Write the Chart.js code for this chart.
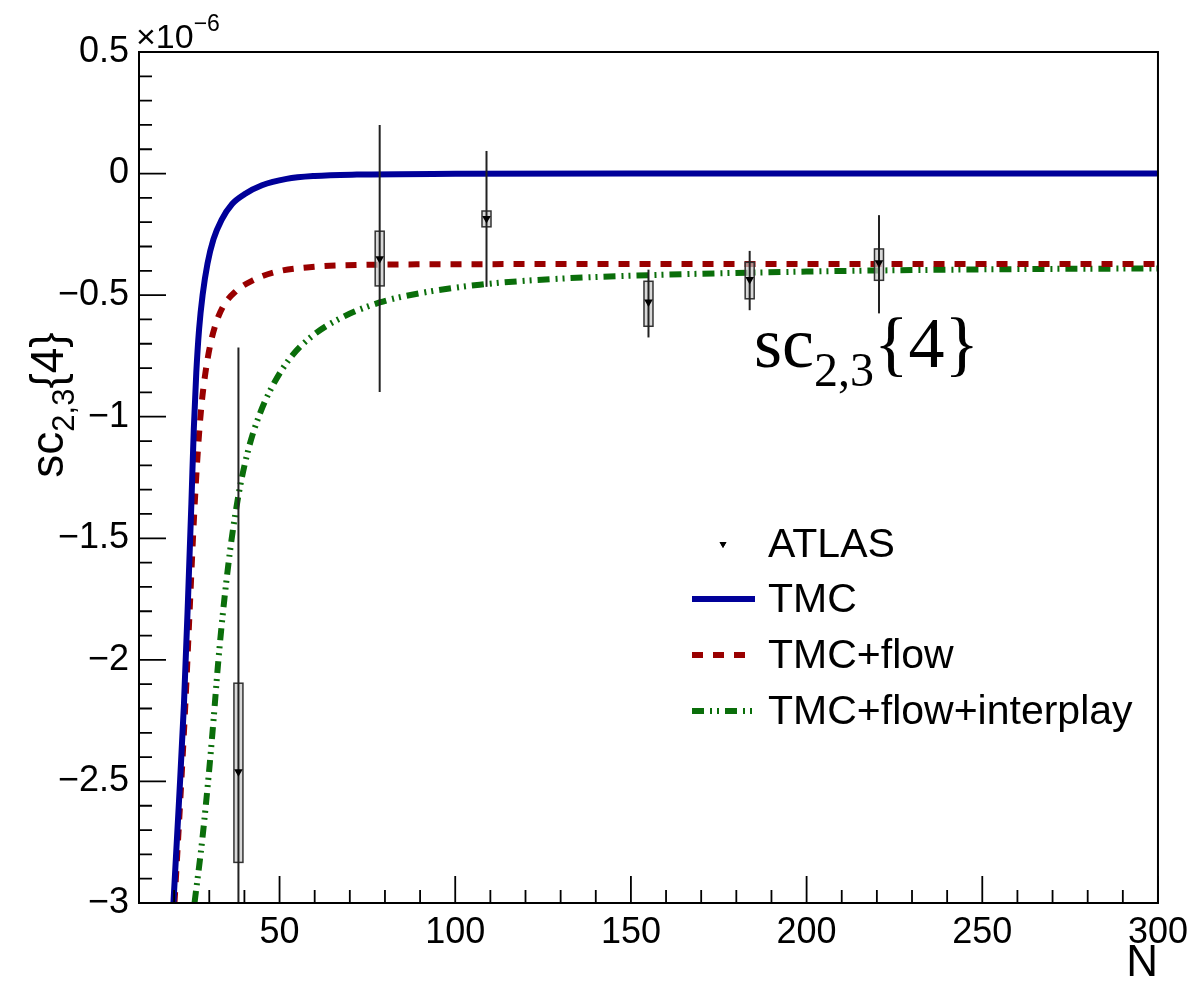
<!DOCTYPE html>
<html>
<head>
<meta charset="utf-8">
<script src="https://cdn.jsdelivr.net/npm/chart.js@4.4.1/dist/chart.umd.min.js"></script>
<style>
  html, body { margin: 0; padding: 0; background: #fff; }
  canvas { display: block; }
</style>
</head>
<body>
<canvas id="sc23" width="1191" height="998"></canvas>
<script>
// sc_{2,3}{4} versus multiplicity N, values in units of 1e-6
const xTickLabels = [50, 100, 150, 200, 250, 300];
const yTickLabels = [-3, -2.5, -2, -1.5, -1, -0.5, 0, 0.5];

// TMC
const tmcN = [19.8, 21.35, 22.8, 23.9, 24.9, 25.6, 26.3, 27.1, 28.1, 29.5, 31.2, 33.5, 36.5, 40.0, 45.0, 52.0, 60.0, 72.0, 100, 150, 200, 250, 300];
const tmcV = [-3.0, -2.59, -2.18, -1.77, -1.36, -1.05, -0.82, -0.64, -0.5, -0.37, -0.27, -0.19, -0.125, -0.085, -0.048, -0.022, -0.01, -0.004, -0.001, 0, 0, 0, 0];

// TMC+flow
const flowN = [20.1, 21.7, 23.2, 24.5, 25.7, 26.8, 27.8, 28.9, 30.2, 31.8, 34.0, 37.5, 42.4, 49.1, 58.5, 72.8, 100, 150, 200, 250, 300];
const flowV = [-3.0, -2.59, -2.18, -1.77, -1.40, -1.13, -0.95, -0.82, -0.71, -0.62, -0.545, -0.485, -0.439, -0.404, -0.385, -0.376, -0.373, -0.372, -0.372, -0.372, -0.372];

// TMC+flow+interplay
const interN = [25.8, 28.0, 29.8, 31.2, 32.6, 34.3, 36.3, 38.6, 41.4, 44.6, 48.5, 53.5, 60.0, 68.0, 78.5, 90.0, 107, 130, 155, 200, 250, 300];
const interV = [-3.0, -2.74, -2.48, -2.25, -2.0, -1.75, -1.51, -1.30, -1.12, -0.98, -0.86, -0.75, -0.66, -0.59, -0.53, -0.492, -0.457, -0.432, -0.418, -0.403, -0.394, -0.39];

// ATLAS points, statistical bars and systematic boxes
const atlasN = [38.3, 78.5, 108.9, 155.0, 183.8, 220.6];
const atlasV = [-2.46, -0.35, -0.185, -0.528, -0.436, -0.367];
const statLo = [-4.2, -0.898, -0.466, -0.674, -0.562, -0.575];
const statHi = [-0.715, 0.2, 0.093, -0.395, -0.318, -0.171];
const sysLo = [-2.833, -0.462, -0.219, -0.628, -0.515, -0.439];
const sysHi = [-2.096, -0.237, -0.154, -0.443, -0.365, -0.31];

const legendLabels = ['ATLAS', 'TMC', 'TMC+flow', 'TMC+flow+interplay'];

const sans = '"Liberation Sans", Arial, Helvetica, sans-serif';
const serif = '"Liberation Serif", "Times New Roman", serif';

const toXY = (xs, ys) => xs.map((x, i) => ({ x, y: ys[i] }));
const minus = v => v === 0 ? '0' : (v < 0 ? '\u2212' : '') + Math.abs(v);

const lineStyles = [
  null,
  { color: '#000099', dash: [] },
  { color: '#990000', dash: [11, 10] },
  { color: '#0a6e0a', dash: [12, 6, 2, 5, 2, 6] }
];

// draws text pieces one after the other: [text, size, dy, family]
function drawRuns(ctx, runs, x, y) {
  runs.forEach(([text, size, dy, family]) => {
    ctx.font = `${size}px ${family}`;
    ctx.fillText(text, x, y + dy);
    x += ctx.measureText(text).width;
  });
  return x;
}
function runsWidth(ctx, runs) {
  return runs.reduce((w, [text, size, , family]) => {
    ctx.font = `${size}px ${family}`;
    return w + ctx.measureText(text).width;
  }, 0);
}

const errorBars = {
  id: 'errorBars',
  beforeDatasetDraw(chart, args) {
    if (args.index !== 0) return;
    const { ctx, chartArea: a, scales: { x, y } } = chart;
    ctx.save();
    ctx.beginPath();
    ctx.rect(a.left, a.top, a.right - a.left, a.bottom - a.top);
    ctx.clip();
    atlasN.forEach((n, i) => {
      const px = x.getPixelForValue(n);
      const top = y.getPixelForValue(sysHi[i]);
      const bot = y.getPixelForValue(sysLo[i]);
      ctx.fillStyle = 'rgba(200,200,200,0.7)';
      ctx.fillRect(px - 4.5, top, 9, bot - top);
      ctx.strokeStyle = '#333';
      ctx.lineWidth = 1.5;
      ctx.strokeRect(px - 4.5, top, 9, bot - top);
      ctx.strokeStyle = '#222';
      ctx.lineWidth = 2;
      ctx.beginPath();
      ctx.moveTo(px, y.getPixelForValue(statHi[i]));
      ctx.lineTo(px, y.getPixelForValue(statLo[i]));
      ctx.stroke();
    });
    ctx.restore();
  }
};

const decorations = {
  id: 'decorations',
  afterDraw(chart) {
    const { ctx, chartArea: a, scales: { x, y } } = chart;
    ctx.save();

    // frame
    ctx.strokeStyle = '#000';
    ctx.lineWidth = 2;
    ctx.strokeRect(a.left, a.top, a.right - a.left, a.bottom - a.top);

    // inward ticks
    ctx.lineWidth = 1.8;
    ctx.beginPath();
    for (let k = 0; k <= 35; k++) {
      const py = y.getPixelForValue(-3 + k * 0.1);
      ctx.moveTo(a.left, py);
      ctx.lineTo(a.left + (k % 5 === 0 ? 27 : 13), py);
    }
    for (let n = 20; n <= 300; n += 10) {
      const px = x.getPixelForValue(n);
      ctx.moveTo(px, a.bottom);
      ctx.lineTo(px, a.bottom - (n % 50 === 0 ? 27 : 13));
    }
    ctx.stroke();

    ctx.fillStyle = '#000';
    ctx.textBaseline = 'alphabetic';

    // exponent
    ctx.textAlign = 'left';
    drawRuns(ctx, [['\u00d710', 34, 0, sans], ['\u22126', 23, -17, sans]], 136, 48);

    // x title
    ctx.textAlign = 'right';
    ctx.font = `44px ${sans}`;
    ctx.fillText('N', a.right, 976);

    // y title
    ctx.textAlign = 'left';
    const yRuns = [['sc', 46, 0, sans], ['2,3', 31, 11, sans], ['{4}', 46, 0, sans]];
    const w = runsWidth(ctx, yRuns);
    ctx.save();
    ctx.translate(63, 405);
    ctx.rotate(-Math.PI / 2);
    drawRuns(ctx, yRuns, -w / 2, 0);
    ctx.restore();

    // annotation
    drawRuns(ctx, [['sc', 72, 0, serif], ['2,3', 48, 19, serif], ['{4}', 72, 0, serif]], 754, 367);

    // legend
    const rows = [544, 599, 655, 711];
    ctx.font = `41px ${sans}`;
    ctx.textBaseline = 'middle';
    legendLabels.forEach((label, i) => {
      const ly = rows[i];
      if (i === 0) {
        ctx.fillStyle = '#000';
        Chart.helpers.drawPoint(ctx, { pointStyle: 'triangle', rotation: 180, radius: 4, borderWidth: 0 }, 723, ly);
        ctx.fill();
      } else {
        const s = lineStyles[i];
        ctx.strokeStyle = s.color;
        ctx.lineWidth = 6;
        ctx.setLineDash(s.dash);
        ctx.beginPath();
        ctx.moveTo(692, ly);
        ctx.lineTo(755, ly);
        ctx.stroke();
        ctx.setLineDash([]);
      }
      ctx.fillStyle = '#000';
      ctx.fillText(label, 768, ly + 2);
    });

    ctx.restore();
  }
};

const curve = (label, xs, ys, i) => ({
  label,
  data: toXY(xs, ys),
  showLine: true,
  pointRadius: 0,
  borderColor: lineStyles[i].color,
  borderWidth: 6,
  borderDash: lineStyles[i].dash,
  borderCapStyle: 'butt',
  cubicInterpolationMode: 'monotone',
  order: 1
});

const ctx = document.getElementById('sc23').getContext('2d');
new Chart(ctx, {
  type: 'scatter',
  data: {
    datasets: [
      {
        label: legendLabels[0],
        data: toXY(atlasN, atlasV),
        pointStyle: 'triangle',
        rotation: 180,
        pointRadius: 5,
        backgroundColor: '#000',
        borderColor: '#000',
        borderWidth: 0,
        order: 0
      },
      curve(legendLabels[1], tmcN, tmcV, 1),
      curve(legendLabels[2], flowN, flowV, 2),
      curve(legendLabels[3], interN, interV, 3)
    ]
  },
  options: {
    responsive: false,
    animation: false,
    layout: { padding: { top: 52, right: 33, left: 0, bottom: 0 } },
    plugins: { legend: { display: false }, tooltip: { enabled: false } },
    scales: {
      x: {
        type: 'linear',
        min: 10,
        max: 300,
        grid: { display: false, drawTicks: false },
        border: { display: false },
        afterFit(s) { s.height = 95; },
        afterBuildTicks(s) { s.ticks = xTickLabels.map(value => ({ value })); },
        ticks: { font: { family: sans, size: 36, lineHeight: 1.5 }, color: '#000', padding: 3, maxRotation: 0, autoSkip: false }
      },
      y: {
        type: 'linear',
        min: -3,
        max: 0.5,
        grid: { display: false, drawTicks: false },
        border: { display: false },
        afterFit(s) { s.width = 139; },
        afterBuildTicks(s) { s.ticks = yTickLabels.map(value => ({ value })); },
        ticks: { font: { family: sans, size: 36 }, color: '#000', padding: 10, autoSkip: false, callback: minus }
      }
    }
  },
  plugins: [errorBars, decorations]
});
</script>
</body>
</html>
